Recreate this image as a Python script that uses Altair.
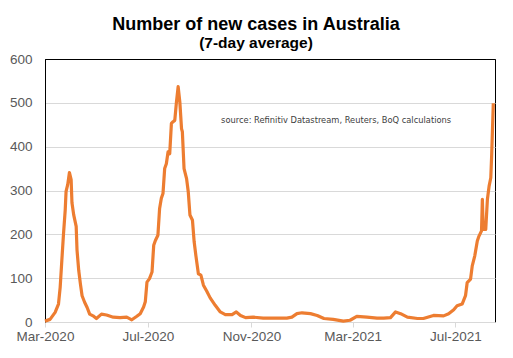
import altair as alt
import pandas as pd

# 7-day average of new COVID-19 cases in Australia
dates = [
    "2020-03-01", "2020-03-07", "2020-03-13", "2020-03-17", "2020-03-19", "2020-03-21",
    "2020-03-23", "2020-03-25", "2020-03-26", "2020-03-28", "2020-03-30", "2020-04-01",
    "2020-04-02", "2020-04-04", "2020-04-07", "2020-04-08", "2020-04-10", "2020-04-12",
    "2020-04-14", "2020-04-17", "2020-04-20", "2020-04-23", "2020-04-27", "2020-05-01",
    "2020-05-07", "2020-05-13", "2020-05-21", "2020-05-29", "2020-06-06", "2020-06-12",
    "2020-06-18", "2020-06-22", "2020-06-26", "2020-06-28", "2020-06-30", "2020-07-03",
    "2020-07-06", "2020-07-08", "2020-07-10", "2020-07-13", "2020-07-15", "2020-07-17",
    "2020-07-19", "2020-07-21", "2020-07-23", "2020-07-25", "2020-07-27", "2020-07-29",
    "2020-07-31", "2020-08-02", "2020-08-04", "2020-08-06", "2020-08-08", "2020-08-10",
    "2020-08-11", "2020-08-13", "2020-08-16", "2020-08-18", "2020-08-20", "2020-08-23",
    "2020-08-25", "2020-08-27", "2020-08-30", "2020-09-02", "2020-09-05", "2020-09-09",
    "2020-09-13", "2020-09-19", "2020-09-25", "2020-10-01", "2020-10-09", "2020-10-14",
    "2020-10-19", "2020-10-25", "2020-11-03", "2020-11-15", "2020-11-27", "2020-12-13",
    "2020-12-19", "2020-12-25", "2020-12-31", "2021-01-10", "2021-01-18", "2021-01-26",
    "2021-02-06", "2021-02-18", "2021-02-26", "2021-03-06", "2021-03-18", "2021-03-30",
    "2021-04-07", "2021-04-15", "2021-04-21", "2021-04-27", "2021-05-05", "2021-05-17",
    "2021-05-24", "2021-06-05", "2021-06-17", "2021-06-23", "2021-06-29", "2021-07-03",
    "2021-07-09", "2021-07-13", "2021-07-15", "2021-07-19", "2021-07-21", "2021-07-24",
    "2021-07-27", "2021-07-29", "2021-08-01", "2021-08-02", "2021-08-03", "2021-08-06",
    "2021-08-08", "2021-08-10", "2021-08-12", "2021-08-13", "2021-08-14", "2021-08-15",
]
cases = [
    2, 6, 22, 41, 79, 141,
    202, 256, 298, 314, 341, 325,
    272, 245, 218, 164, 118, 87,
    60, 45, 33, 18, 14, 8,
    18, 16, 11, 10, 11, 5,
    13, 19, 34, 46, 91, 99,
    114, 175, 186, 198, 259, 282,
    293, 350, 361, 388, 384, 453,
    457, 460, 502, 537, 502, 441,
    434, 350, 327, 297, 244, 232,
    183, 152, 110, 107, 84, 70,
    55, 38, 23, 17, 17, 23,
    15, 10, 11, 9, 9, 9,
    11, 19, 21, 19, 15, 8,
    6, 2, 4, 13, 11, 9,
    9, 10, 23, 19, 11, 8,
    8, 15, 14, 19, 28, 37,
    41, 60, 90, 98, 128, 151,
    185, 196, 208, 280, 211, 211,
    280, 310, 329, 378, 439, 499,
]

y_ticks = [0, 100, 200, 300, 400, 500, 600]
x_tick_dates = [(2020, 3), (2020, 7), (2020, 11), (2021, 3), (2021, 7)]
x_start = (2020, 3, 1)
x_end = (2021, 8, 17)

source_note = ["source:  Refinitiv Datastream, Reuters, BoQ calculations"]
note_date = ["2020-09-26"]
note_value = [458]

df = pd.DataFrame({"date": dates, "cases": cases})
note_df = pd.DataFrame({"date": note_date, "value": note_value, "text": source_note})

x_scale = alt.Scale(
    type="utc",
    domain=[
        alt.DateTime(year=x_start[0], month=x_start[1], date=x_start[2], utc=True),
        alt.DateTime(year=x_end[0], month=x_end[1], date=x_end[2], utc=True),
    ],
)
y_scale = alt.Scale(domain=[0, 600], nice=False)

label_font = "Liberation Sans"
label_color = "#595959"

line = alt.Chart(df).mark_line(
    color="#ED7D31", strokeWidth=3.2, strokeJoin="round"
).encode(
    x=alt.X(
        "date:T",
        scale=x_scale,
        axis=alt.Axis(
            title=None,
            values=[alt.DateTime(year=y, month=m, date=1, utc=True) for y, m in x_tick_dates],
            labelExpr="utcFormat(datum.value, '%b-%Y')",
            labelFont=label_font,
            labelFontSize=13.5,
            labelColor=label_color,
            labelPadding=2,
            tickColor="#d9d9d9",
            tickSize=5,
            domainColor="#d9d9d9",
            grid=False,
            labelFlush=False,
        ),
    ),
    y=alt.Y(
        "cases:Q",
        scale=y_scale,
        axis=alt.Axis(
            title=None,
            values=y_ticks,
            labelFont=label_font,
            labelFontSize=13.5,
            labelColor=label_color,
            labelPadding=13,
            ticks=False,
            domainColor="#000000",
            gridColor={"condition": {"test": "datum.value === 600", "value": "#000000"}, "value": "#d9d9d9"},
            labelFlush=False,
        ),
    ),
)

note = alt.Chart(note_df).mark_text(
    align="left", baseline="middle", fontSize=8.3, color="#404040", font="DejaVu Sans"
).encode(
    x=alt.X("date:T", scale=x_scale),
    y=alt.Y("value:Q", scale=y_scale),
    text="text:N",
)

chart = alt.layer(line, note).properties(
    width=450,
    height=263,
    padding={"left": 37, "top": 51, "right": 8, "bottom": 26},
    autosize=alt.AutoSizeParams(type="none"),
    title=alt.TitleParams(
        text="Number of new cases in Australia",
        subtitle="(7-day average)",
        font=label_font,
        fontSize=18,
        fontWeight="bold",
        color="#000000",
        subtitleFont=label_font,
        subtitleFontSize=15.5,
        subtitleFontWeight="bold",
        subtitleColor="#000000",
        subtitlePadding=2,
        anchor="middle",
        dx=-14,
        offset=1,
    ),
).configure_view(stroke="#000000", strokeWidth=1)

chart.save("out.html", embed_options={"renderer": "svg", "actions": False})
